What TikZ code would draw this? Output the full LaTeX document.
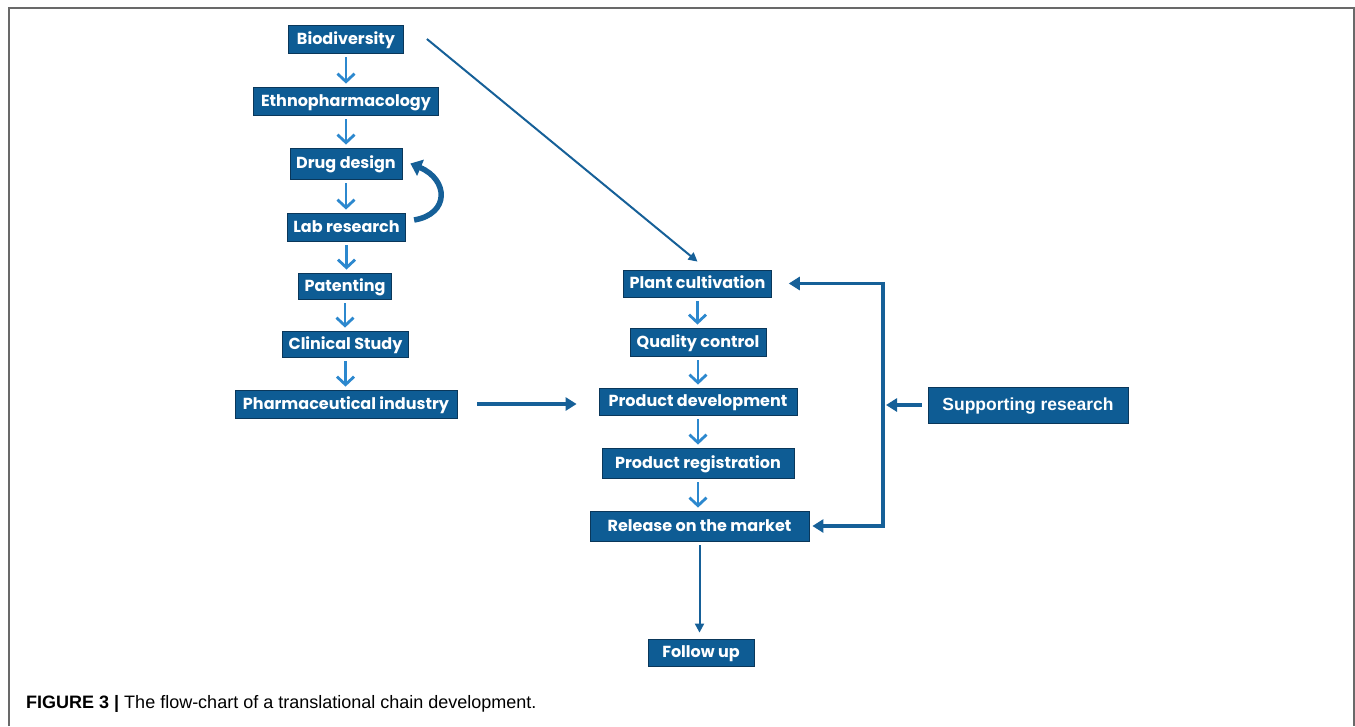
\documentclass[tikz,border=0pt]{standalone}
\usepackage{fontspec}
\setmainfont{Liberation Sans}
\newfontfamily\boxfont{Poppins}
\usetikzlibrary{arrows.meta}
\definecolor{boxblue}{RGB}{14,92,148}
\definecolor{boxedge}{RGB}{10,55,90}
\definecolor{lightarrow}{RGB}{44,136,206}
\definecolor{darkline}{RGB}{22,96,152}
\definecolor{framegray}{RGB}{105,105,105}
\tikzset{
  stepbox/.style={fill=boxblue, draw=boxedge, line width=0.8pt, text=white,
    font=\boxfont\bfseries\fontsize{16}{16}\selectfont, inner xsep=6pt, inner ysep=0pt,
    text height=11.5pt, text depth=1.5pt, minimum height=27pt},
  supbox/.style={fill=boxblue, draw=boxedge, line width=1pt, text=white,
    font=\bfseries\fontsize{17.5}{17.5}\selectfont, inner xsep=8pt, inner ysep=0pt,
    text height=12.5pt, text depth=1.5pt, minimum height=36pt, minimum width=200pt},
  lightarrow/.style={draw=lightarrow, line width=2.8pt,
    -{Straight Barb[length=8pt,width=17pt]}},
  darkarrow/.style={draw=darkline, line width=3.2pt,
    -{Triangle[length=11pt,width=13pt]}},
  thinarrow/.style={draw=darkline, line width=2pt,
    -{Triangle[length=9pt,width=9pt]}},
  fbline/.style={draw=darkline, line width=3.2pt},
  looparrow/.style={draw=darkline, line width=5.5pt,
    -{Triangle[length=11pt,width=17pt]}},
}
\begin{document}
\begin{tikzpicture}[x=1pt,y=-1pt]
\useasboundingbox (0,0) rectangle (1355,726);
% frame
\draw[framegray, line width=2pt] (9,726) -- (9,8) -- (1354,8) -- (1354,726);
% left column
\node[stepbox, minimum width=115pt, minimum height=28pt] (bio) at (346,39) {Biodiversity};
\node[stepbox, minimum width=185pt, minimum height=28pt] (ethno) at (346,101) {Ethnopharmacology};
\node[stepbox, minimum width=112pt, minimum height=31pt] (drug) at (346,163.5) {Drug design};
\node[stepbox, minimum width=117pt, minimum height=28pt] (lab) at (346.5,227) {Lab research};
\node[stepbox, minimum width=84pt, minimum height=26pt] (pat) at (345,286) {Patenting};
\node[stepbox, minimum width=121pt, minimum height=26pt] (clin) at (345.5,344) {Clinical Study};
\node[stepbox, minimum width=222pt, minimum height=28pt] (pharma) at (346,404) {Pharmaceutical industry};
% right column
\node[stepbox, minimum width=147pt] (plant) at (697.5,283.5) {Plant cultivation};
\node[stepbox, minimum width=136pt, minimum height=28pt] (qc) at (698,342) {Quality control};
\node[stepbox, minimum width=198pt] (pd) at (698,401.5) {Product development};
\node[stepbox, minimum width=192pt, minimum height=30pt] (pr) at (698,463) {Product registration};
\node[stepbox, minimum width=219pt, minimum height=30pt] (rel) at (699.5,526) {Release on the market};
\node[stepbox, minimum width=106pt] (fu) at (701,652.5) {Follow up};
\node[supbox] (sup) at (1028,405) {Supporting research};
% short arrows
\foreach \a/\b in {bio/ethno, ethno/drug, drug/lab, lab/pat, pat/clin, clin/pharma,
                   plant/qc, qc/pd, pd/pr, pr/rel}
  \draw[lightarrow] ([yshift=-4pt]\a.south) -- ([yshift=3pt]\a.south |- \b.north);
% loop arrow
\draw[looparrow] ([xshift=8pt,yshift=7pt]lab.east) .. controls +(36,-6) and +(38,16) .. ([xshift=8pt]drug.east);
% diagonal
\draw[thinarrow] ([xshift=23pt]bio.east) -- ([yshift=8pt]plant.north);
% pharma to product development
\draw[darkarrow] ([xshift=20pt]pharma.east) -- ([xshift=-22pt]pharma.east -| pd.west);
% feedback
\coordinate (ft) at (883,283.5);
\coordinate (fb) at (883,526);
\draw[fbline] ([yshift=1.6pt]ft) -- ([yshift=-1.6pt]fb);
\draw[darkarrow] ([xshift=1.6pt]ft) -- ([xshift=17pt]plant.east);
\draw[darkarrow] ([xshift=1.6pt]fb) -- ([xshift=3pt]rel.east);
\draw[darkarrow] ([xshift=-6pt]sup.west) -- ([xshift=3pt]sup.west -| ft);
% release to follow up
\draw[thinarrow] ([yshift=-4pt]rel.south) -- ([yshift=6pt]rel.south |- fu.north);
% caption
\node[anchor=base west, inner sep=0pt, font=\fontsize{18}{18}\selectfont] (cap) at (26,708)
  {\textbf{FIGURE 3 |} The flow-chart of a translational chain development.};
\end{tikzpicture}
\end{document}
